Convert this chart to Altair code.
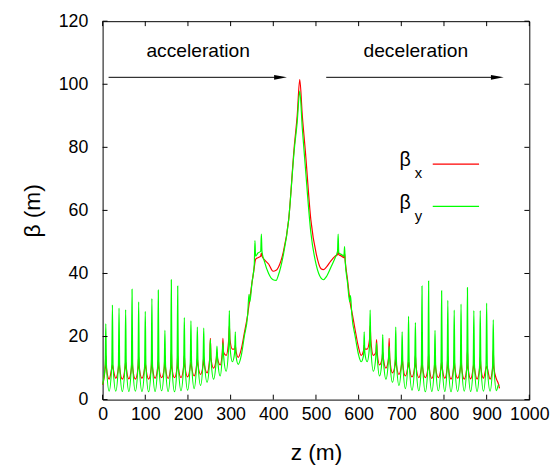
import altair as alt
import pandas as pd

# ---- data: z (m), beta_x (red), beta_y (green) ----
Z = [
    0, 6.0, 7.5, 9.0, 15.3, 21.5, 23.0, 24.5, 30.8, 37.0, 38.5, 40.0, 46.2,
    52.5, 54.0, 55.5, 61.5, 67.5, 69.0, 70.5, 76.8, 83.0, 84.5, 86.0, 92.2,
    98.5, 100.0, 101.5, 107.8, 114.0, 115.5, 117.0, 123.0, 129.0, 130.5, 132.0, 138.3,
    144.5, 146.0, 147.5, 153.5, 159.5, 161.0, 162.5, 168.5, 174.5, 176.0, 177.5, 183.8,
    190.0, 191.5, 193.0, 199.3, 205.5, 207.0, 208.5, 214.5, 220.5, 222.0, 223.5, 229.5,
    235.5, 237.0, 238.5, 244.8, 251.0, 252.5, 254.0, 260.0, 266.5, 268.0, 269.5, 275.5,
    280.5, 282.0, 283.5, 289.5, 295.5, 297.0, 298.5, 304.0, 309.5, 311.0, 312.5, 318.0,
    325, 332, 340, 343, 345, 350, 355.5, 357, 358.5, 364, 370.5, 372, 373.5, 379,
    389, 399.6, 406.6, 412, 423, 436, 449, 456, 462,
    468, 475, 488, 501, 512, 517.4, 524.4, 535, 545, 550.5, 552, 553.5, 560,
    565.5, 567, 568.5, 574, 579, 581, 584, 592, 599, 606,
    611.5, 613.0, 614.5, 620.0, 625.5, 627.0, 628.5, 634.5, 640.5, 642.0, 643.5, 649.0,
    655.0, 656.5, 658.0, 664.0, 670.0, 671.5, 673.0, 679.3, 685.5, 687.0, 688.5, 694.5,
    700.5, 702.0, 703.5, 709.5, 715.5, 717.0, 718.5, 725.0, 731.5, 733.0, 734.5, 741.0,
    747.0, 748.5, 750.0, 756.3, 762.5, 764.0, 765.5, 771.5, 777.5, 779.0, 780.5, 786.8,
    793.0, 794.5, 796.0, 802.0, 807.5, 809.0, 810.5, 816.5, 822.5, 824.0, 825.5, 832.0,
    838.5, 840.0, 841.5, 847.5, 853.5, 855.0, 856.5, 862.5, 868.5, 870.0, 871.5, 877.5,
    883.5, 885.0, 886.5, 892.5, 898.5, 900.0, 901.5, 908.0, 914.0, 915.5, 917.0, 923.0,
    927.5, 930.0,
]
BX = [
    4.7, 10, 14, 10, 6.5, 10, 11, 10, 6.8, 10, 12.5, 10, 6.5,
    10, 12, 10, 6.6, 10, 14.7, 10, 6.5, 10, 13.7, 10, 6.8,
    10, 11.6, 10, 6.5, 10, 14.7, 10, 6.8, 10, 12.6, 10, 7.0,
    10, 14.0, 10, 6.7, 10, 15.7, 10, 7.0, 10, 14.0, 10, 7.0,
    10.5, 14.0, 10.5, 7.2, 10.5, 12.0, 10.5, 7.5, 11, 13.0, 11, 8.0,
    11, 13.5, 11, 8.5, 13, 19.4, 13, 10.0, 13, 15.0, 13, 11.0,
    15, 19.4, 15, 14.0, 19, 23.5, 19, 16.0, 16, 17.3, 15.5, 13.4,
    16, 21, 27, 30, 32, 37, 42, 43.5, 44.5, 45, 45.5, 46.5, 45.5, 44.4,
    43, 40.7, 41, 42, 46.5, 57, 80, 90, 101.5,
    90, 79, 57, 46, 41.5, 41.2, 42, 44, 45.5, 46, 47, 46, 45.5,
    45, 46.5, 44, 38, 32, 30, 28, 22, 17, 14,
    15.5, 17.3, 16, 16.0, 19, 23.5, 19, 14.0, 15, 19.0, 15, 11.0,
    13, 15.0, 13, 10.0, 13, 19.4, 13, 8.5, 11, 13.5, 11, 8.0,
    11, 13.0, 11, 7.5, 10.5, 12.0, 10.5, 7.2, 10.5, 14.0, 10.5, 7.0,
    10, 13.0, 10, 7.0, 10, 14.7, 10, 6.7, 10, 13.7, 10, 7.0,
    10, 12.0, 10, 6.8, 10, 13.7, 10, 6.5, 10, 12.5, 10, 6.8,
    10, 13.7, 10, 6.5, 10, 15.7, 10, 6.6, 10, 11.5, 10, 6.5,
    10, 13.5, 10, 6.8, 10, 10.6, 10, 6.5, 10, 15.7, 10, 6.5,
    5.0, 3.6,
]
BY = [
    4.8, 11, 24, 11, 2.7, 11, 30, 11, 2.7, 11, 29, 11, 2.6,
    11, 28.5, 11, 2.6, 11, 35, 11, 2.7, 11, 31, 11, 2.6,
    11, 28, 11, 2.5, 11, 32, 11, 2.6, 11, 34.7, 11, 2.8,
    11, 22, 11, 2.6, 11, 38, 11, 2.5, 11, 36, 11, 2.8,
    11.5, 26, 11.5, 3.0, 12, 25, 12, 3.5, 12, 23, 12, 4.5,
    12.5, 22.7, 12.5, 5.5, 13, 19, 13, 6.5, 13, 17, 13, 7.5,
    14, 18, 14, 9.0, 17, 28.2, 17, 12.0, 15, 21.5, 14, 11.2,
    14, 20, 27, 33.4, 31, 37, 43, 50.4, 45.5, 46.5, 47, 52.5, 47, 43.9,
    40, 38, 37.8, 39.5, 45.5, 57, 79, 88, 97.8,
    86, 74, 53, 42.5, 38.5, 38, 39, 42, 45, 47, 52.5, 46.5, 46,
    45.5, 48.5, 44, 37, 31, 33, 27, 20, 14.7, 12,
    14, 21.5, 15, 12.0, 17, 28.4, 17, 9.0, 14, 18, 14, 7.5,
    13, 20.6, 13, 6.5, 13, 17, 13, 5.5, 12.5, 23, 12.5, 4.5,
    12, 21.5, 12, 3.5, 12, 26.4, 12, 3.0, 11.5, 24.4, 11.5, 2.8,
    11, 36, 11, 2.5, 11, 37.6, 11, 2.6, 11, 22, 11, 2.8,
    11, 34.5, 11, 2.6, 11, 31.5, 11, 2.5, 11, 28.4, 11, 2.6,
    11, 30.3, 11, 2.7, 11, 35.5, 11, 2.6, 11, 28.2, 11, 2.6,
    11, 28.2, 11, 2.7, 11, 30.6, 11, 2.7, 11, 25.3, 11, 2.8,
    4.6, 4.6,
]

X_TICKS = [0, 100, 200, 300, 400, 500, 600, 700, 800, 900, 1000]
Y_TICKS = [0, 20, 40, 60, 80, 100, 120]

# annotations (arrows and their labels)
ARROW_START = [14, 524]
ARROW_END = [432, 940]
ARROW_HEAD = [417, 925]
ARROW_LEVEL = [102.2, 102.2]
ANNOT_TEXT = ["acceleration", "deceleration"]
ANNOT_Z = [224, 734]
ANNOT_LEVEL = [110.6, 110.6]

FONT = "Liberation Sans"
W, H = 433, 384

df = pd.DataFrame({"z": Z, "bx": BX, "by": BY})
tx = pd.DataFrame({"t": X_TICKS})
ty = pd.DataFrame({"t": Y_TICKS})
arrows = pd.DataFrame({"z0": ARROW_START, "z1": ARROW_END, "zh": ARROW_HEAD, "b": ARROW_LEVEL})
annots = pd.DataFrame({"label": ANNOT_TEXT, "z": ANNOT_Z, "b": ANNOT_LEVEL})

xscale = alt.Scale(domain=[0, 1000], nice=False, zero=False)
yscale = alt.Scale(domain=[0, 120], nice=False, zero=False)

xaxis = alt.Axis(values=X_TICKS, format="d", title="z (m)", grid=False, domain=False, ticks=False,
                 labelFont=FONT, labelFontSize=18, labelColor="black", labelPadding=6,
                 labelFlush=False, labelOverlap=False,
                 titleFont=FONT, titleFontSize=23, titleFontWeight="normal", titleColor="black",
                 titlePadding=19)
yaxis = alt.Axis(values=Y_TICKS, format="d", title="β (m)", grid=False, domain=False, ticks=False,
                 labelFont=FONT, labelFontSize=18, labelColor="black", labelPadding=15,
                 labelFlush=False, labelOverlap=False,
                 titleFont=FONT, titleFontSize=23, titleFontWeight="normal", titleColor="black",
                 titlePadding=14)


def X(field):
    return alt.X(field, scale=xscale, axis=xaxis, title="z (m)")


def Y(field):
    return alt.Y(field, scale=yscale, axis=yaxis, title="β (m)")


red = alt.Chart(df).mark_line(color="#ff0000", strokeWidth=1.2, interpolate="monotone").encode(
    x=X("z:Q"), y=Y("bx:Q"))
green = alt.Chart(df).mark_line(color="#00ff00", strokeWidth=1.2, interpolate="monotone").encode(
    x=X("z:Q"), y=Y("by:Q"))

tick_bottom = alt.Chart(tx).mark_rule(color="black", strokeWidth=1).encode(
    x=X("t:Q"), y=alt.value(H), y2=alt.value(H - 5))
tick_top = alt.Chart(tx).mark_rule(color="black", strokeWidth=1).encode(
    x=X("t:Q"), y=alt.value(0), y2=alt.value(5))
tick_left = alt.Chart(ty).mark_rule(color="black", strokeWidth=1).encode(
    y=Y("t:Q"), x=alt.value(0), x2=alt.value(5))
tick_right = alt.Chart(ty).mark_rule(color="black", strokeWidth=1).encode(
    y=Y("t:Q"), x=alt.value(W), x2=alt.value(W - 5))

shaft = alt.Chart(arrows).mark_rule(color="black", strokeWidth=1).encode(
    x=X("z0:Q"), x2="zh:Q", y=Y("b:Q"))
head = alt.Chart(arrows).mark_point(shape="M-1,-0.36L1,0L-1,0.36Z", filled=True, color="black",
                                    opacity=1, size=169).encode(
    x=X("zh:Q"), y=Y("b:Q"))
labels = alt.Chart(annots).mark_text(font=FONT, fontSize=19.5, color="black",
                                     align="center", baseline="middle").encode(
    x=X("z:Q"), y=Y("b:Q"), text="label:N")

# legend drawn by hand (subscripts)
leg = pd.DataFrame({"a": [0]})
leg_beta_x = alt.Chart(leg).mark_text(text="β", font=FONT, fontSize=20, align="center",
                                      baseline="alphabetic", color="black").encode(
    x=alt.value(307), y=alt.value(147))
leg_sub_x = alt.Chart(leg).mark_text(text="x", font=FONT, fontSize=15, align="center",
                                     baseline="alphabetic", color="black").encode(
    x=alt.value(320.5), y=alt.value(159))
leg_line_x = alt.Chart(leg).mark_rule(color="#ff0000", strokeWidth=1.2).encode(
    x=alt.value(335), x2=alt.value(382), y=alt.value(145))
leg_beta_y = alt.Chart(leg).mark_text(text="β", font=FONT, fontSize=20, align="center",
                                      baseline="alphabetic", color="black").encode(
    x=alt.value(307), y=alt.value(191))
leg_sub_y = alt.Chart(leg).mark_text(text="y", font=FONT, fontSize=15, align="center",
                                     baseline="alphabetic", color="black").encode(
    x=alt.value(320.5), y=alt.value(202.5))
leg_line_y = alt.Chart(leg).mark_rule(color="#00ff00", strokeWidth=1.2).encode(
    x=alt.value(335), x2=alt.value(382), y=alt.value(188))

chart = alt.layer(
    red, green, tick_bottom, tick_top, tick_left, tick_right, shaft, head, labels,
    leg_beta_x, leg_sub_x, leg_line_x, leg_beta_y, leg_sub_y, leg_line_y,
).properties(
    width=W, height=H,
    padding={"left": 96, "top": 10, "right": 22, "bottom": 65},
    autosize=alt.AutoSizeParams(type="none"),
    background="white",
).configure_view(stroke="black", strokeWidth=1)

chart.save("out.html", embed_options={"renderer": "svg", "actions": False})
